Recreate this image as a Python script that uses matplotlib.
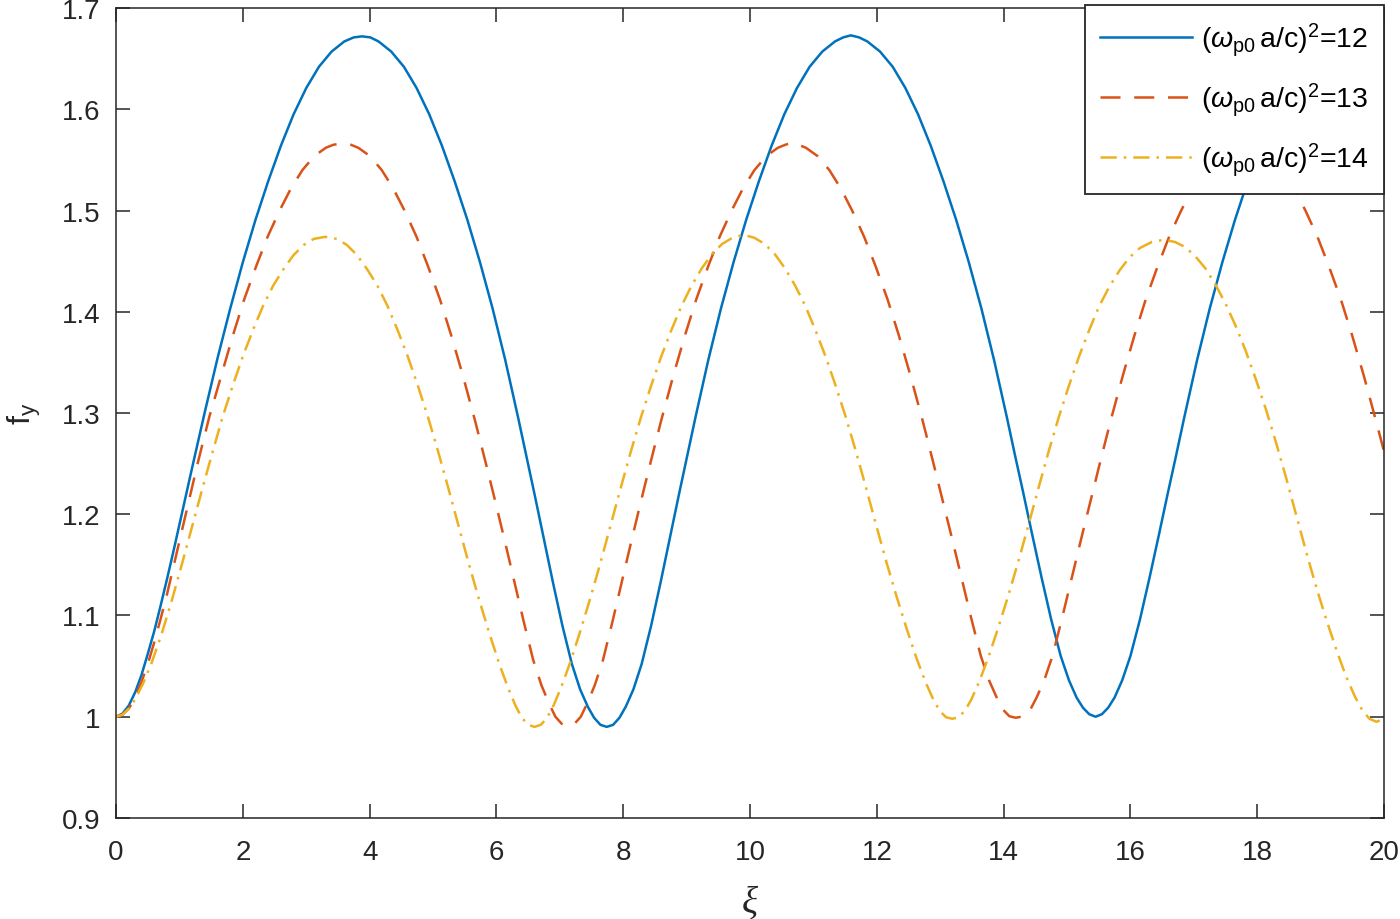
import matplotlib
matplotlib.use("Agg")
import matplotlib.pyplot as plt

# ---------------------------------------------------------------------------
# Data: f_y versus xi for three plasma densities
# ---------------------------------------------------------------------------

# (omega_p0 a/c)^2 = 12
xi_12 = [0.00, 0.10, 0.20, 0.30, 0.40, 0.50, 0.60, 0.70, 0.80, 0.90, 1.00, 1.20,
         1.40, 1.60, 1.80, 2.00, 2.20, 2.40, 2.60, 2.80, 3.00, 3.20, 3.40, 3.60,
         3.75, 3.88,
         4.01, 4.14, 4.34, 4.54, 4.74, 4.94, 5.14, 5.34, 5.54, 5.74, 5.94, 6.14,
         6.34, 6.47, 6.60, 6.74, 6.89, 7.04, 7.19, 7.32, 7.44, 7.54, 7.64, 7.74,
         7.84, 7.94, 8.04, 8.16, 8.29, 8.44, 8.59, 8.74, 8.88, 9.01, 9.14, 9.34,
         9.54, 9.74, 9.94, 10.14, 10.34, 10.54, 10.74, 10.94, 11.14, 11.34, 11.47,
         11.59,
         11.72, 11.85, 12.05, 12.25, 12.45, 12.65, 12.85, 13.05, 13.25, 13.45,
         13.65, 13.85, 14.05, 14.18, 14.31, 14.45, 14.60, 14.75, 14.90, 15.03,
         15.15, 15.25, 15.35, 15.45,
         15.55, 15.65, 15.75, 15.87, 16.00, 16.15, 16.30, 16.45, 16.59, 16.72,
         16.85, 17.05, 17.25, 17.45, 17.65, 17.85, 18.05, 18.25, 18.45, 18.65,
         18.85, 19.05, 19.18, 19.31, 19.44, 19.57, 19.77, 19.97, 20.00]
fy_12 = [1.000, 1.003, 1.011, 1.024, 1.041, 1.062, 1.084, 1.109, 1.135, 1.162,
         1.190, 1.246, 1.301, 1.354, 1.403, 1.449, 1.491, 1.529, 1.564, 1.595,
         1.621, 1.642, 1.657, 1.667, 1.671, 1.672,
         1.671, 1.667, 1.657, 1.642, 1.621, 1.595, 1.564, 1.529, 1.491, 1.449,
         1.403, 1.352, 1.296, 1.258, 1.220, 1.178, 1.133, 1.090, 1.052, 1.027,
         1.010, 0.999, 0.992, 0.990,
         0.992, 0.999, 1.010, 1.027, 1.052, 1.090, 1.133, 1.178, 1.220, 1.258,
         1.296, 1.352, 1.403, 1.449, 1.491, 1.529, 1.564, 1.595, 1.621, 1.642,
         1.657, 1.667, 1.671, 1.673,
         1.671, 1.667, 1.657, 1.642, 1.621, 1.595, 1.564, 1.529, 1.491, 1.449,
         1.403, 1.352, 1.296, 1.258, 1.221, 1.180, 1.137, 1.096, 1.060, 1.036,
         1.019, 1.009, 1.0025, 1.000,
         1.0025, 1.009, 1.019, 1.036, 1.060, 1.096, 1.137, 1.180, 1.221, 1.258,
         1.296, 1.352, 1.403, 1.449, 1.491, 1.529, 1.564, 1.595, 1.621, 1.642,
         1.657, 1.667, 1.671, 1.672, 1.671, 1.667, 1.657, 1.642, 1.640]

# (omega_p0 a/c)^2 = 13
xi_13 = [0.00, 0.10, 0.20, 0.30, 0.40, 0.50, 0.60, 0.70, 0.80, 0.92, 1.10, 1.29,
         1.47, 1.66, 1.84, 2.02, 2.21, 2.39, 2.58, 2.76, 2.94, 3.13, 3.31, 3.43,
         3.56,
         3.70, 3.82, 4.00, 4.19, 4.37, 4.55, 4.74, 4.92, 5.11, 5.29, 5.47, 5.66,
         5.83, 5.98, 6.13, 6.28, 6.43, 6.58, 6.71, 6.83, 6.93, 7.03, 7.13,
         7.23, 7.33, 7.43, 7.55, 7.68, 7.83, 7.98, 8.13, 8.28, 8.43, 8.60, 8.79,
         8.97, 9.15, 9.34, 9.52, 9.71, 9.89, 10.07, 10.26, 10.44, 10.56, 10.66,
         10.76, 10.88, 11.06, 11.25, 11.43, 11.61, 11.80, 11.98, 12.17, 12.35,
         12.53, 12.72, 12.89, 13.04, 13.19, 13.34, 13.49, 13.64, 13.77, 13.89,
         13.99, 14.09, 14.19,
         14.32, 14.42, 14.52, 14.64, 14.77, 14.92, 15.07, 15.22, 15.37, 15.52,
         15.69, 15.88, 16.06, 16.24, 16.43, 16.61, 16.80, 16.98, 17.16, 17.35,
         17.53, 17.65, 17.78,
         17.91, 18.03, 18.21, 18.40, 18.58, 18.76, 18.95, 19.13, 19.32, 19.50,
         19.68, 19.87, 20.00]
fy_13 = [1.000, 1.002, 1.008, 1.019, 1.034, 1.052, 1.073, 1.096, 1.120, 1.152,
         1.200, 1.251, 1.296, 1.337, 1.376, 1.412, 1.445, 1.474, 1.500, 1.522,
         1.540, 1.554, 1.562, 1.565, 1.566,
         1.565, 1.562, 1.554, 1.540, 1.522, 1.500, 1.474, 1.445, 1.412, 1.376,
         1.337, 1.293, 1.251, 1.213, 1.174, 1.134, 1.094, 1.056, 1.031, 1.013,
         1.000, 0.993, 0.991,
         0.993, 1.000, 1.013, 1.031, 1.056, 1.094, 1.134, 1.174, 1.213, 1.251,
         1.293, 1.337, 1.376, 1.412, 1.445, 1.474, 1.500, 1.522, 1.540, 1.554,
         1.562, 1.565, 1.567,
         1.565, 1.562, 1.554, 1.540, 1.522, 1.500, 1.474, 1.445, 1.412, 1.376,
         1.337, 1.293, 1.251, 1.213, 1.175, 1.136, 1.097, 1.060, 1.036, 1.019,
         1.007, 1.0005, 0.999,
         1.0005, 1.007, 1.019, 1.036, 1.060, 1.097, 1.136, 1.175, 1.213, 1.251,
         1.293, 1.337, 1.376, 1.412, 1.445, 1.474, 1.500, 1.522, 1.540, 1.554,
         1.562, 1.565, 1.567,
         1.565, 1.562, 1.554, 1.540, 1.522, 1.500, 1.474, 1.445, 1.412, 1.376,
         1.337, 1.293, 1.262]

# (omega_p0 a/c)^2 = 14
xi_14 = [0.00, 0.10, 0.20, 0.30, 0.42, 0.56, 0.72, 0.88, 1.04, 1.20, 1.36, 1.52,
         1.68, 1.84, 2.00, 2.16, 2.32, 2.48, 2.64, 2.80, 2.96, 3.12, 3.30,
         3.48, 3.64, 3.80, 3.96, 4.12, 4.28, 4.44, 4.60, 4.76, 4.92, 5.08, 5.24,
         5.40, 5.56, 5.72, 5.88, 6.04, 6.18, 6.30, 6.40, 6.50, 6.60,
         6.70, 6.80, 6.90, 7.02, 7.16, 7.32, 7.48, 7.64, 7.80, 7.96, 8.12, 8.28,
         8.44, 8.60, 8.76, 8.92, 9.08, 9.24, 9.40, 9.56, 9.72, 9.90,
         10.07, 10.23, 10.39, 10.55, 10.71, 10.87, 11.03, 11.19, 11.35, 11.51,
         11.67, 11.83, 11.99, 12.15, 12.31, 12.47, 12.63, 12.77, 12.89, 12.99,
         13.09, 13.19,
         13.29, 13.39, 13.49, 13.61, 13.75, 13.91, 14.07, 14.23, 14.39, 14.55,
         14.71, 14.87, 15.03, 15.19, 15.35, 15.51, 15.67, 15.83, 15.99, 16.15,
         16.34, 16.52,
         16.70, 16.86, 17.02, 17.18, 17.34, 17.50, 17.66, 17.82, 17.98, 18.14,
         18.30, 18.46, 18.62, 18.78, 18.94, 19.10, 19.26, 19.40, 19.54, 19.66,
         19.77, 19.88, 20.00]
fy_14 = [1.000, 1.002, 1.008, 1.017, 1.032, 1.053, 1.082, 1.115, 1.151, 1.188,
         1.225, 1.261, 1.296, 1.327, 1.356, 1.382, 1.406, 1.426, 1.442, 1.456,
         1.466, 1.472, 1.474,
         1.472, 1.466, 1.456, 1.442, 1.426, 1.406, 1.382, 1.356, 1.327, 1.296,
         1.262, 1.226, 1.189, 1.152, 1.117, 1.084, 1.053, 1.029, 1.011, 0.999,
         0.992, 0.990,
         0.992, 0.999, 1.011, 1.029, 1.053, 1.084, 1.117, 1.152, 1.189, 1.226,
         1.262, 1.296, 1.327, 1.356, 1.382, 1.406, 1.426, 1.443, 1.457, 1.467,
         1.473, 1.476,
         1.473, 1.467, 1.457, 1.443, 1.426, 1.406, 1.382, 1.356, 1.327, 1.296,
         1.262, 1.226, 1.189, 1.153, 1.119, 1.087, 1.057, 1.034, 1.017, 1.006,
         0.9995, 0.998,
         0.9995, 1.006, 1.017, 1.034, 1.057, 1.087, 1.119, 1.153, 1.189, 1.226,
         1.262, 1.296, 1.327, 1.356, 1.382, 1.406, 1.425, 1.441, 1.454, 1.463,
         1.469, 1.471,
         1.469, 1.464, 1.455, 1.443, 1.427, 1.408, 1.386, 1.361, 1.333, 1.303,
         1.270, 1.235, 1.198, 1.161, 1.126, 1.094, 1.064, 1.040, 1.020, 1.006,
         0.998, 0.995, 0.998]

labels = [r'$(\omega_{\mathrm{p0}}\,\mathrm{a/c})^{2}$=12',
          r'$(\omega_{\mathrm{p0}}\,\mathrm{a/c})^{2}$=13',
          r'$(\omega_{\mathrm{p0}}\,\mathrm{a/c})^{2}$=14']

x_ticks = [0, 2, 4, 6, 8, 10, 12, 14, 16, 18, 20]
y_ticks = [0.9, 1.0, 1.1, 1.2, 1.3, 1.4, 1.5, 1.6, 1.7]
y_tick_labels = ['0.9', '1', '1.1', '1.2', '1.3', '1.4', '1.5', '1.6', '1.7']

# ---------------------------------------------------------------------------
# Figure
# ---------------------------------------------------------------------------

plt.rcParams['font.family'] = ['Liberation Sans', 'DejaVu Sans']
plt.rcParams['mathtext.fontset'] = 'custom'
plt.rcParams['mathtext.rm'] = 'Liberation Sans'
plt.rcParams['mathtext.it'] = 'Liberation Sans:italic'

dark = '#262626'

fig = plt.figure(figsize=(14, 9.2), dpi=100)
ax = fig.add_axes([0.0829, 0.1098, 0.9057, 0.8804])

ax.plot(xi_12, fy_12, color='#0072BD', lw=1.8, label=labels[0])
ax.plot(xi_13, fy_13, color='#D95319', lw=1.8, dashes=(8, 5.5), label=labels[1])
ax.plot(xi_14, fy_14, color='#EDB120', lw=1.8, dashes=(6.5, 2.8, 1, 2.8),
        label=labels[2])

ax.set_xlim(0, 20)
ax.set_ylim(0.9, 1.7)
ax.set_xticks(x_ticks)
ax.set_yticks(y_ticks)
ax.set_yticklabels(y_tick_labels)

ax.tick_params(direction='in', top=True, right=True, length=10, width=1.1,
               colors=dark, labelsize=20)
ax.tick_params(axis='x', pad=15)
ax.tick_params(axis='y', pad=11)
for sp in ax.spines.values():
    sp.set_color(dark)
    sp.set_linewidth(1.1)

ax.set_xlabel('ξ', fontfamily='Liberation Serif', style='italic', fontsize=27,
              color=dark, labelpad=15)
ax.set_ylabel(r'$\mathrm{f_y}$', fontsize=23, color=dark, labelpad=14)

leg = ax.legend(loc='upper right', bbox_to_anchor=(1.0, 1.004), borderaxespad=0,
                fontsize=20.5, handlelength=3.2, handletextpad=0.32,
                labelspacing=0.8, borderpad=0.55, fancybox=False, framealpha=1,
                edgecolor=dark)
leg.get_frame().set_linewidth(1.3)

fig.savefig('out.png', dpi=100)
